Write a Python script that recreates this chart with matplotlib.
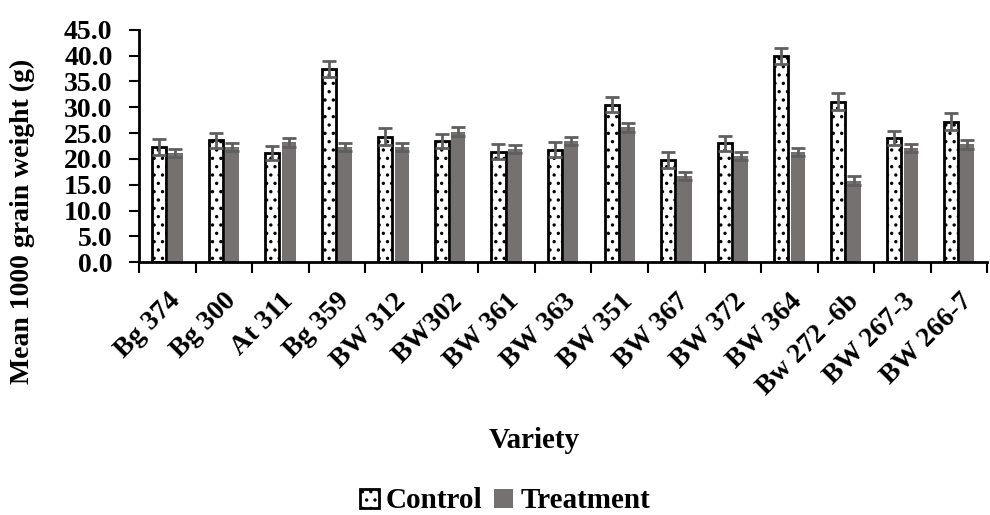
import matplotlib
matplotlib.use("Agg")
import matplotlib.pyplot as plt
import numpy as np

varieties = ["Bg 374", "Bg 300", "At 311", "Bg 359", "BW 312", "BW302", "BW 361", "BW 363",
             "BW 351", "BW 367", "BW 372", "BW 364", "Bw 272 -6b", "BW 267-3", "BW 266-7"]
control = [22.3, 23.6, 21.1, 37.4, 24.3, 23.5, 21.4, 21.8, 30.5, 19.8, 23.0, 39.9, 31.1, 24.1, 27.2]
treatment = [21.1, 22.3, 23.2, 22.3, 22.3, 25.3, 21.9, 23.4, 26.1, 16.7, 20.5, 21.4, 15.8, 22.1, 22.8]
control_err = [1.5, 1.5, 1.4, 1.5, 1.6, 1.4, 1.5, 1.4, 1.5, 1.5, 1.5, 1.5, 1.6, 1.4, 1.6]
treatment_err = [0.8, 0.8, 0.8, 0.8, 0.8, 0.8, 0.8, 0.8, 0.8, 0.8, 0.8, 0.8, 0.8, 0.8, 0.8]

plt.rcParams['font.family'] = ['Liberation Serif', 'DejaVu Serif']
plt.rcParams['font.weight'] = 'bold'
plt.rcParams['hatch.linewidth'] = 1.2

fig = plt.figure(figsize=(9.9, 5.15), dpi=100)
ax = fig.add_axes([0.1404, 0.491, 0.857, 0.451])

x = np.arange(len(varieties))
w = 0.25
off = 0.145
ax.bar(x - off, control, w, color='white', edgecolor='black', linewidth=2, hatch='..',
       label='Control', zorder=2)
ax.bar(x + off, treatment, w, color='#767171', edgecolor='#767171', linewidth=0,
       label='Treatment', zorder=2)
ax.errorbar(x - off, control, yerr=control_err, fmt='none', ecolor='#5f5f5f', elinewidth=2,
            capsize=5, capthick=2, zorder=3)
ax.errorbar(x + off, treatment, yerr=treatment_err, fmt='none', ecolor='#5f5f5f', elinewidth=2,
            capsize=5, capthick=2, zorder=3)

ax.set_xlim(-0.5, len(varieties) - 0.5)
ax.set_ylim(0, 45)
yt = np.arange(0, 45.1, 5)
ax.set_yticks(yt)
ax.set_yticklabels([f"{v:.1f}" for v in yt], fontsize=20, fontweight='bold')
ax.set_xticks(x)
ax.set_xticklabels(varieties, rotation=45, ha='right', va='top', rotation_mode='anchor',
                   fontsize=20, fontweight='bold')
ax.set_xticks(np.arange(-0.5, len(varieties), 1), minor=True)
ax.tick_params(axis='x', which='major', length=0, pad=19)
ax.tick_params(axis='x', which='minor', length=8, width=1.5, direction='out')
ax.tick_params(axis='y', which='major', length=7, width=1.5, direction='out', pad=12)

for s in ['top', 'right']:
    ax.spines[s].set_visible(False)
for s in ['left', 'bottom']:
    ax.spines[s].set_linewidth(2)

fig.text(22 / 990, 1 - 221 / 515, "Mean 1000 grain weight (g)", rotation=90, ha='center',
         va='center', fontsize=20, fontweight='bold')
fig.text(534 / 990, 1 - 440 / 515, "Variety", ha='center', va='center', fontsize=21,
         fontweight='bold')

handles, labels = ax.get_legend_handles_labels()
fig.legend(handles, labels, loc='center', bbox_to_anchor=(505 / 990, 1 - 501 / 515), ncol=2,
           frameon=False, prop={'size': 21, 'weight': 'bold'}, handlelength=0.65,
           handleheight=0.65, handletextpad=0.25, columnspacing=0.4)

fig.savefig("out.png", dpi=100)
